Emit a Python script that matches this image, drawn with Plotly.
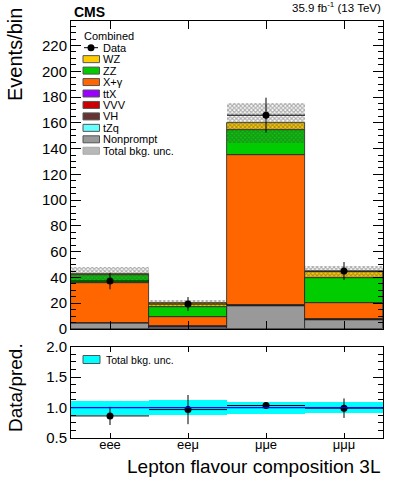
import plotly.graph_objects as go
import numpy as np

# Bins (lepton flavour composition)
bins = ["eee", "eeμ", "μμe", "μμμ"]

# stacked backgrounds, bottom to top
nonprompt = [4.4, 1.5, 18.0, 7.0]
tzq = [0.1, 0.1, 0.2, 0.2]
vh = [0.1, 0.1, 0.2, 0.2]
vvv = [0.1, 0.1, 0.2, 0.2]
ttx = [0.2, 0.2, 0.4, 0.4]
xgamma = [31.0, 7.0, 116.0, 11.9]
zz = [6.0, 8.3, 19.3, 19.9]
wz = [0.7, 2.7, 5.2, 4.6]
bkg_unc = [5.3, 2.6, 15.5, 4.4]

data = [37.2, 19.4, 165.9, 45.0]
data_err = [6.4, 5.4, 13.6, 7.0]

ratio = [0.863, 0.967, 1.033, 0.99]
ratio_err = [0.15, 0.24, 0.05, 0.16]
ratio_unc = [0.115, 0.125, 0.10, 0.09]

y_ticks = [0, 20, 40, 60, 80, 100, 120, 140, 160, 180, 200, 220]
r_ticks = [0.5, 1.0, 1.5, 2.0]

stack = [("Nonprompt", nonprompt, "#999999"),
         ("tZq", tzq, "#66FFFF"),
         ("VH", vh, "#663333"),
         ("VVV", vvv, "#CC0000"),
         ("ttX", ttx, "#9900FF"),
         ("X+γ", xgamma, "#FF6600"),
         ("ZZ", zz, "#00CC00"),
         ("WZ", wz, "#FFCC00")]

FONT = "Liberation Sans, Arial, sans-serif"
W, H = 399, 483
ML, MR, MT, MB = 71, 16, 21, 45
PW, PH = W - ML - MR, H - MT - MB

def px(x):
    return (x - ML) / PW

def py(y):
    return (H - MB - y) / PH

x = np.arange(len(bins))
fig = go.Figure()

base = np.zeros(len(bins))
for name, vals, col in stack:
    fig.add_trace(go.Bar(x=x, y=vals, base=base.copy(), width=1, name=name,
                         marker=dict(color=col, line=dict(color="#222222", width=0.8)),
                         xaxis="x", yaxis="y", showlegend=False))
    base = base + np.array(vals)
total = base

unc = np.array(bkg_unc)
fig.add_trace(go.Bar(x=x, y=2 * unc, base=total - unc, width=1,
                     marker=dict(color="rgba(0,0,0,0)", line=dict(width=0),
                                 pattern=dict(shape="x", fgcolor="rgba(70,70,70,0.9)",
                                              size=3, solidity=0.6, fillmode="overlay")),
                     xaxis="x", yaxis="y", showlegend=False))

fig.add_trace(go.Scatter(x=x, y=data, mode="markers",
                         marker=dict(color="black", size=7),
                         error_y=dict(type="data", array=data_err, color="black", thickness=1, width=0),
                         error_x=dict(type="data", array=[0.5] * 4, color="black", thickness=1, width=0),
                         xaxis="x", yaxis="y", showlegend=False))

# ratio panel
ru = np.array(ratio_unc)
fig.add_trace(go.Bar(x=x, y=2 * ru, base=1 - ru, width=1,
                     marker=dict(color="#00FFFF", line=dict(width=0)),
                     xaxis="x2", yaxis="y2", showlegend=False))
fig.add_trace(go.Scatter(x=x, y=ratio, mode="markers",
                         marker=dict(color="black", size=7),
                         error_y=dict(type="data", array=ratio_err, color="black", thickness=1, width=0),
                         error_x=dict(type="data", array=[0.5] * 4, color="black", thickness=1, width=0),
                         xaxis="x2", yaxis="y2", showlegend=False))

fig.add_shape(type="line", xref="x2 domain", yref="y2", x0=0, x1=1, y0=1, y1=1,
              line=dict(color="#0000FF", width=1.2))

top_dom = [py(329), 1.0]
bot_dom = [0.0, py(346.7)]

ax = dict(showgrid=False, zeroline=False, showline=True, linecolor="black", linewidth=1,
          mirror="ticks", ticks="inside", tickcolor="black",
          tickfont=dict(family=FONT, size=15, color="black"))

fig.update_layout(
    width=W, height=H,
    margin=dict(l=ML, r=MR, t=MT, b=MB),
    paper_bgcolor="white", plot_bgcolor="white",
    barmode="overlay", bargap=0,
    font=dict(family=FONT, color="black"),
    xaxis=dict(ax, domain=[0, 1], anchor="y", range=[-0.5, 3.5], tickvals=list(x),
               showticklabels=False, ticklen=8),
    yaxis=dict(ax, domain=top_dom, anchor="x", range=[0, 239], tickvals=y_ticks, ticklen=10,
               minor=dict(dtick=5, ticklen=5, ticks="inside", tickcolor="black")),
    xaxis2=dict(ax, domain=[0, 1], anchor="y2", range=[-0.5, 3.5], tickvals=list(x),
                ticktext=bins, ticklen=5, ticklabelstandoff=-6,
                tickfont=dict(family=FONT, size=13, color="black")),
    yaxis2=dict(ax, domain=bot_dom, anchor="x2", range=[0.5, 2.0], tickvals=r_ticks,
                tickformat=".1f", ticklen=10,
                minor=dict(dtick=0.125, ticklen=5, ticks="inside", tickcolor="black")),
)

ann = [
    dict(text="<b>CMS</b>", x=px(72), y=py(12), xanchor="left", yanchor="middle", font=dict(size=14)),
    dict(text="35.9 fb<sup>-1</sup> (13 TeV)", x=px(290), y=py(7), xanchor="left", yanchor="middle",
         font=dict(size=11.5)),
    dict(text="Events/bin", x=px(15), y=py(55), textangle=-90, xanchor="center", yanchor="middle",
         font=dict(size=20)),
    dict(text="Data/pred.", x=px(15), y=py(388), textangle=-90, xanchor="center", yanchor="middle",
         font=dict(size=19)),
    dict(text="Lepton flavour composition 3L", x=px(383), y=py(466), xanchor="right", yanchor="middle",
         font=dict(size=19)),
    dict(text="Combined", x=px(82), y=py(35.5), xanchor="left", yanchor="middle", font=dict(size=11)),
    dict(text="Total bkg. unc.", x=px(104), y=py(359.5), xanchor="left", yanchor="middle",
         font=dict(size=10.5)),
]

# hand-made ROOT style legend
rows = [("Data", None)] + [(n, c) for n, v, c in stack[::-1]] + [("Total bkg. unc.", "hatch")]
y0, dy = 47.7, 11.45
for i, (name, col) in enumerate(rows):
    yc = y0 + i * dy
    ann.append(dict(text=name, x=px(101), y=py(yc), xanchor="left", yanchor="middle", font=dict(size=11)))
    if col is None:
        fig.add_shape(type="line", xref="paper", yref="paper", x0=px(84), x1=px(98), y0=py(yc), y1=py(yc),
                      line=dict(color="black", width=1))
        fig.add_shape(type="circle", xref="paper", yref="paper", x0=px(87.5), x1=px(94.5),
                      y0=py(yc + 3.5), y1=py(yc - 3.5), fillcolor="black", line=dict(width=0))
    elif col == "hatch":
        fig.add_shape(type="rect", xref="paper", yref="paper", x0=px(83), x1=px(99.5),
                      y0=py(yc + 3.5), y1=py(yc - 3.5), fillcolor="#b8b8b8",
                      line=dict(color="#aaaaaa", width=1))
    else:
        fig.add_shape(type="rect", xref="paper", yref="paper", x0=px(83), x1=px(99.5),
                      y0=py(yc + 3.5), y1=py(yc - 3.5), fillcolor=col,
                      line=dict(color="#555555", width=1))

fig.add_shape(type="rect", xref="paper", yref="paper", x0=px(83), x1=px(100),
              y0=py(363.5), y1=py(355.5), fillcolor="#00FFFF", line=dict(color="#555555", width=1))

for a in ann:
    a.update(xref="paper", yref="paper", showarrow=False)
    a["font"] = dict(family=FONT, color="black", **a["font"])
fig.update_layout(annotations=ann)

fig.write_html("out.html", config={"displayModeBar": False},
               post_script="document.body.style.margin='0';")
